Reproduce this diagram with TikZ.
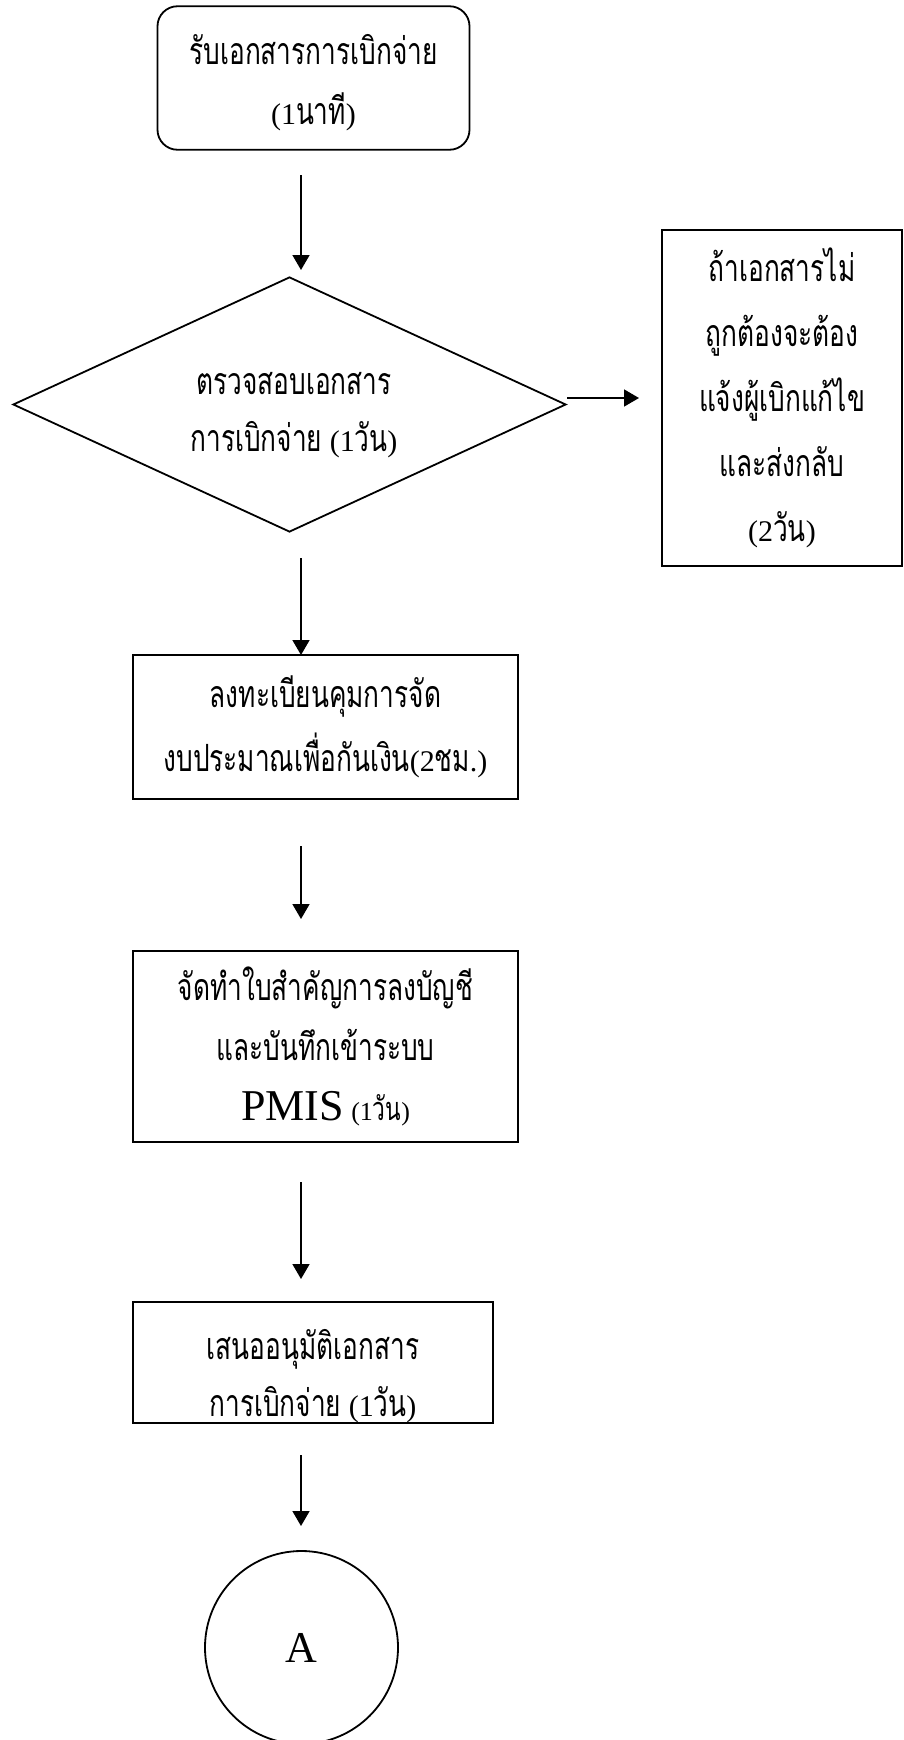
\documentclass[tikz,border=0pt]{standalone}
\usepackage{fontspec}
\setmainfont{Liberation Serif}
\newfontfamily\thaifont[Script=Thai,Scale=1.25,FakeStretch=0.7]{Loma}
\newcommand\tht[1]{{\thaifont #1}}
\usetikzlibrary{shapes.geometric,arrows.meta}

\begin{document}
\begin{tikzpicture}[x=0.5pt,y=-0.5pt,
  every node/.style={align=center, font=\fontsize{15}{30}\selectfont, inner sep=0pt},
  frame/.style={draw, line width=0.9pt},
  stepbox/.style={frame, rectangle, minimum width=#1},
  roundbox/.style={frame, rectangle, rounded corners=10pt},
  decision/.style={frame, diamond, aspect=2.2},
  connector/.style={frame, circle, minimum size=96.5pt},
  arr/.style={-{Triangle[length=7.5pt,width=8.5pt]}, line width=0.8pt}]
  \useasboundingbox (0,0) rectangle (904,1740);

  % process nodes
  \node[roundbox, minimum width=156pt, minimum height=71.75pt] (recv) at (313.5,78) {};
  \node (recvtext) at (313.5,83)
    {\tht{รับเอกสารการเบิกจ่าย}\\(1\tht{นาที})};
  \node[decision, minimum width=276.5pt, minimum height=127.5pt] (check) at (289.5,404.5) {};
  \node[font=\fontsize{15}{28.5}\selectfont] (checktext) at (294,415)
    {\tht{ตรวจสอบเอกสาร}\\\tht{การเบิกจ่าย} (1\tht{วัน})};
  \node[stepbox=120pt, minimum height=168pt, font=\fontsize{15}{32.5}\selectfont] (reject) at (782,398)
    {\tht{ถ้าเอกสารไม่}\\\tht{ถูกต้องจะต้อง}\\\tht{แจ้งผู้เบิกแก้ไข}\\\tht{และส่งกลับ}\\(2\tht{วัน})};
  \node[stepbox=192.5pt, minimum height=72pt, font=\fontsize{15}{32}\selectfont] (reserve) at (325.5,727)
    {\tht{ลงทะเบียนคุมการจัด}\\\tht{งบประมาณเพื่อกันเงิน}(2\tht{ชม}.)};
  \node[stepbox=192.5pt, minimum height=95.5pt, font=\fontsize{15}{30}\selectfont] (voucher) at (325.5,1046.5)
    {\tht{จัดทำใบสำคัญการลงบัญชี}\\\tht{และบันทึกเข้าระบบ}\\{\fontsize{22}{22}\selectfont PMIS} {\fontsize{13}{13}\selectfont (1\tht{วัน})}};
  \node[stepbox=180pt, minimum height=60.5pt] (approve) at (313,1362.5) {};
  \node[font=\fontsize{15}{28.5}\selectfont] (approvetext) at (313,1376)
    {\tht{เสนออนุมัติเอกสาร}\\\tht{การเบิกจ่าย} (1\tht{วัน})};
  \node[connector, font=\fontsize{22}{22}\selectfont] (linkA) at (301.5,1647.5) {A};

  % arrow end points
  \coordinate (a1s) at (301,175);  \coordinate (a1e) at (301,270);
  \coordinate (a2s) at (301,558);  \coordinate (a2e) at (301,655);
  \coordinate (a3s) at (301,846);  \coordinate (a3e) at (301,919);
  \coordinate (a4s) at (301,1182); \coordinate (a4e) at (301,1279);
  \coordinate (a5s) at (301,1455); \coordinate (a5e) at (301,1526);
  \coordinate (r1s) at (567,398);  \coordinate (r1e) at (639,398);

  \draw[arr] (a1s) -- (a1e);
  \draw[arr] (a2s) -- (a2e);
  \draw[arr] (a3s) -- (a3e);
  \draw[arr] (a4s) -- (a4e);
  \draw[arr] (a5s) -- (a5e);
  \draw[arr] (r1s) -- (r1e);
\end{tikzpicture}
\end{document}
